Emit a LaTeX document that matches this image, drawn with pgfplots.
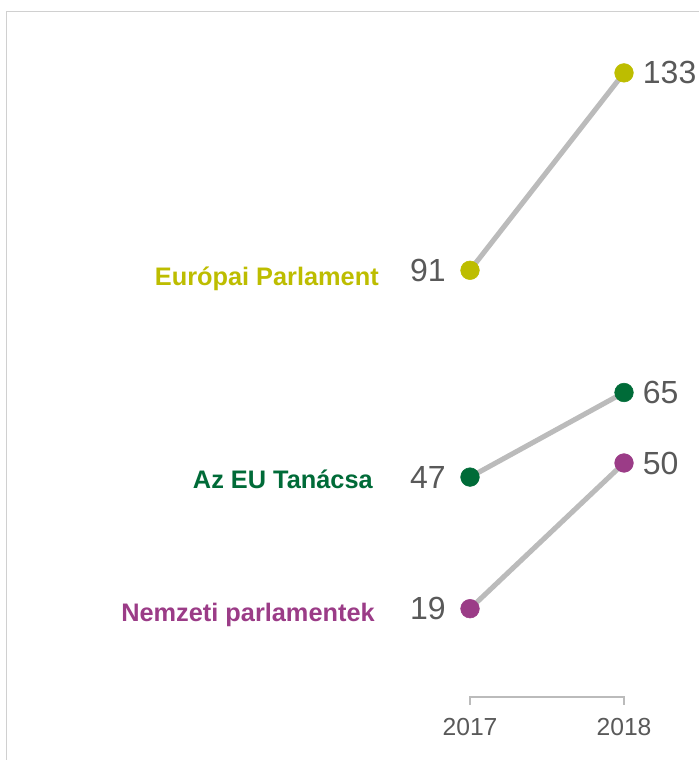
\documentclass[border=0pt]{standalone}
\usepackage{fontspec}
\setmainfont{Liberation Sans}
\usepackage{pgfplots}
\pgfplotsset{compat=1.18}

\definecolor{ep}{RGB}{189,189,0}
\definecolor{council}{RGB}{0,107,56}
\definecolor{natl}{RGB}{155,60,135}
\definecolor{conn}{RGB}{187,187,187}
\definecolor{valtxt}{RGB}{89,89,89}
\definecolor{framegray}{RGB}{208,208,208}

\pgfplotsset{
  slope/.style={draw=conn, line width=3.8pt, no marks},
  dot/.style={only marks, mark=*, mark size=7pt,
    mark options={draw=#1, fill=#1}},
  valleft/.style={nodes near coords,
    nodes near coords style={anchor=east, xshift=-18pt, inner sep=0pt,
      font=\fontsize{24}{28}\selectfont, text=valtxt}},
  valright/.style={nodes near coords,
    nodes near coords style={anchor=west, xshift=14pt, inner sep=0pt,
      font=\fontsize{24}{28}\selectfont, text=valtxt}},
}
\tikzset{
  catlabel/.style={anchor=base east, inner sep=0pt,
    font=\bfseries\fontsize{19}{23}\selectfont, text=#1},
}

\begin{document}
\begin{tikzpicture}
\useasboundingbox (0,0) rectangle (524.25pt,570pt);
% light frame, left and top only
\draw[framegray, line width=1.1pt] (4.875pt,0) -- (4.875pt,561.375pt) -- (524.25pt,561.375pt);

\begin{axis}[
  at={(0,0)}, anchor=south west,
  scale only axis,
  width=524.25pt, height=570pt,
  xmin=2013.94805, xmax=2018.48701,
  ymin=-13.1915, ymax=148.5106,
  hide axis,
  clip=false,
  /pgf/number format/assume math mode=true,
]

% connectors
\addplot[slope] coordinates {(2017,91) (2018,133)};
\addplot[slope] coordinates {(2017,47) (2018,65)};
\addplot[slope] coordinates {(2017,19) (2018,50)};

% Európai Parlament
\addplot[dot=ep, valleft] coordinates {(2017,91)};
\addplot[dot=ep, valright] coordinates {(2018,133)};

% Az EU Tanácsa
\addplot[dot=council, valleft] coordinates {(2017,47)};
\addplot[dot=council, valright] coordinates {(2018,65)};

% Nemzeti parlamentek
\addplot[dot=natl, valleft] coordinates {(2017,19)};
\addplot[dot=natl, valright] coordinates {(2018,50)};

% category names
\node[catlabel=ep, xshift=-68.25pt, yshift=-11.25pt] at (axis cs:2017,91) {Európai Parlament};
\node[catlabel=council, xshift=-72.75pt, yshift=-8.25pt] at (axis cs:2017,47) {Az EU Tanácsa};
\node[catlabel=natl, xshift=-71.25pt, yshift=-9.75pt] at (axis cs:2017,19) {Nemzeti parlamentek};

% year bracket
\draw[conn, line width=1.1pt] (axis cs:2017,-1.5) -- (axis cs:2017,0.2) -- (axis cs:2018,0.2) -- (axis cs:2018,-1.5);
\node[text=valtxt, inner sep=0pt, font=\fontsize{18.5}{22}\selectfont] at (axis cs:2017,-6.2) {2017};
\node[text=valtxt, inner sep=0pt, font=\fontsize{18.5}{22}\selectfont] at (axis cs:2018,-6.2) {2018};

\end{axis}
\end{tikzpicture}
\end{document}
